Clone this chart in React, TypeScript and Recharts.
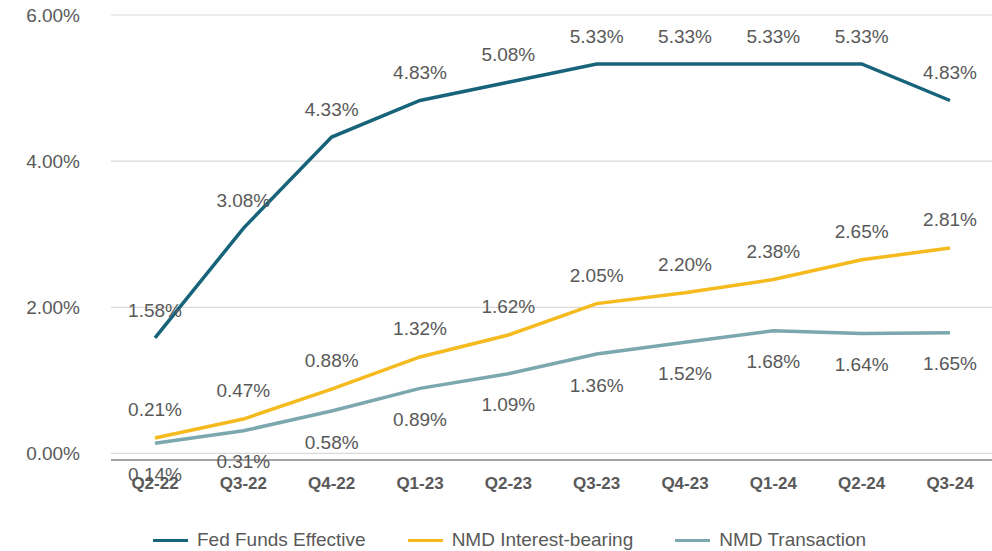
import React from 'react';
import { LineChart, Line, XAxis, YAxis, CartesianGrid, Legend, LabelList } from 'recharts';

const categories = ['Q2-22', 'Q3-22', 'Q4-22', 'Q1-23', 'Q2-23', 'Q3-23', 'Q4-23', 'Q1-24', 'Q2-24', 'Q3-24'];
const fedFunds = [1.58, 3.08, 4.33, 4.83, 5.08, 5.33, 5.33, 5.33, 5.33, 4.83];
const nmdInterest = [0.21, 0.47, 0.88, 1.32, 1.62, 2.05, 2.2, 2.38, 2.65, 2.81];
const nmdTransaction = [0.14, 0.31, 0.58, 0.89, 1.09, 1.36, 1.52, 1.68, 1.64, 1.65];
const yTicks = [0, 2, 4, 6];

const data = categories.map((q, i) => ({
  q,
  fed: fedFunds[i],
  ib: nmdInterest[i],
  tr: nmdTransaction[i],
}));

const FONT = "'Liberation Sans', Arial, sans-serif";
const TEXT = '#595959';
const fmt = (v: any) => `${Number(v).toFixed(2)}%`;

const LegendContent = (props: any) => {
  const { payload = [] } = props;
  return (
    <div
      style={{
        display: 'flex',
        alignItems: 'center',
        height: 22,
        paddingLeft: 153,
        fontFamily: FONT,
        fontSize: 19,
        color: TEXT,
        whiteSpace: 'nowrap',
      }}
    >
      {payload.map((p: any) => (
        <div key={p.value} style={{ display: 'flex', alignItems: 'center', marginRight: 42 }}>
          <span style={{ display: 'inline-block', width: 35, height: 3, background: p.color, marginRight: 9 }} />
          <span>{p.value}</span>
        </div>
      ))}
    </div>
  );
};

export default function App() {
  return (
    <div style={{ position: 'absolute', left: 0, top: 0, width: 992, height: 551, overflow: 'hidden', background: '#fff' }}>
      <LineChart width={1000} height={551} data={data} margin={{ top: 15, right: 6, left: 0, bottom: 0 }}>
        <CartesianGrid vertical={false} stroke="#D9D9D9" strokeWidth={1.2} />
        <XAxis
          dataKey="q"
          height={69}
          padding={{ left: 44, right: 44 }}
          tickLine={false}
          tickSize={0}
          tickMargin={17}
          axisLine={{ stroke: '#8C8C8C', strokeWidth: 1.5 }}
          tick={{ fill: TEXT, fontSize: 17, fontWeight: 'bold', fontFamily: FONT }}
          interval={0}
        />
        <YAxis
          width={111}
          domain={[-0.09, 6]}
          ticks={yTicks}
          allowDataOverflow
          axisLine={false}
          tickLine={false}
          tickSize={0}
          tickMargin={31}
          tickFormatter={fmt}
          tick={{ fill: TEXT, fontSize: 19, fontFamily: FONT }}
        />
        <Legend verticalAlign="bottom" content={LegendContent} wrapperStyle={{ left: 0, width: 1000 }} />
        <Line
          type="linear"
          dataKey="fed"
          name="Fed Funds Effective"
          stroke="#17647A"
          strokeWidth={3.5}
          dot={false}
          isAnimationActive={false}
        >
          <LabelList dataKey="fed" position="top" offset={21} formatter={fmt} fill={TEXT} fontSize={19} fontFamily={FONT} />
        </Line>
        <Line
          type="linear"
          dataKey="ib"
          name="NMD Interest-bearing"
          stroke="#F5BA1E"
          strokeWidth={3.5}
          dot={false}
          isAnimationActive={false}
        >
          <LabelList dataKey="ib" position="top" offset={22} formatter={fmt} fill={TEXT} fontSize={19} fontFamily={FONT} />
        </Line>
        <Line
          type="linear"
          dataKey="tr"
          name="NMD Transaction"
          stroke="#7BA7AE"
          strokeWidth={3.5}
          dot={false}
          isAnimationActive={false}
        >
          <LabelList dataKey="tr" position="bottom" offset={24} formatter={fmt} fill={TEXT} fontSize={19} fontFamily={FONT} />
        </Line>
      </LineChart>
    </div>
  );
}
